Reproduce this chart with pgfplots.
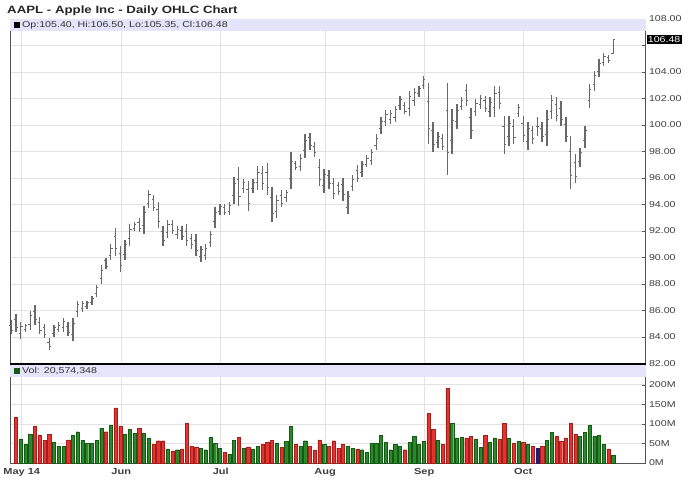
\documentclass[border=0pt]{standalone}
\usepackage{fontspec}
\setmainfont{Liberation Sans}[FakeStretch=1.25]
\usepackage{pgfplots}
\pgfplotsset{compat=1.18}
\usepackage{pgfplotstable}

\definecolor{band}{RGB}{228,228,250}
\definecolor{gridc}{RGB}{226,226,226}
\definecolor{barc}{RGB}{105,105,105}
\definecolor{vred}{RGB}{228,52,48}
\definecolor{vredd}{RGB}{165,30,28}
\definecolor{vgreen}{RGB}{42,138,42}
\definecolor{vgreend}{RGB}{22,88,22}
\definecolor{vblue}{RGB}{30,30,115}
\definecolor{framec}{RGB}{85,85,85}

\pgfdeclareplotmark{otick}{\pgfpathmoveto{\pgfqpoint{-1.8pt}{0pt}}\pgfpathlineto{\pgfqpoint{0pt}{0pt}}\pgfusepathqstroke}
\pgfdeclareplotmark{ctick}{\pgfpathmoveto{\pgfqpoint{0pt}{0pt}}\pgfpathlineto{\pgfqpoint{1.8pt}{0pt}}\pgfusepathqstroke}

\pgfplotstableread{
i o h l c
0 84.90 85.25 84.24 84.50
1 85.35 85.75 84.36 84.70
2 84.25 85.10 83.86 84.80
3 84.60 85.00 84.40 84.85
4 84.95 86.00 84.50 85.60
5 85.95 86.40 84.90 85.30
6 85.10 85.50 84.20 84.50
7 84.70 85.00 83.90 84.20
8 83.60 83.90 83.00 83.25
9 84.25 84.90 84.00 84.70
10 84.60 85.10 84.40 84.90
11 84.70 85.40 84.40 85.15
12 84.80 85.10 84.10 84.35
13 84.20 85.40 83.70 85.00
14 85.90 86.75 85.50 86.45
15 86.15 86.75 85.90 86.55
16 86.30 86.75 86.10 86.60
17 86.60 87.10 86.40 86.90
18 87.25 87.90 87.00 87.70
19 88.40 89.40 88.00 89.05
20 89.75 90.00 89.10 89.35
21 90.15 91.00 89.80 90.70
22 91.60 92.20 90.15 90.65
23 90.30 90.90 88.90 89.40
24 90.25 91.30 89.80 90.95
25 91.40 92.50 90.90 92.10
26 92.20 92.70 92.00 92.50
27 92.65 93.00 91.90 92.20
28 92.45 93.90 91.80 93.40
29 94.10 95.10 93.70 94.75
30 94.35 94.70 93.50 93.80
31 93.60 94.20 92.20 92.70
32 91.95 92.40 90.90 91.30
33 91.90 92.80 91.50 92.50
34 92.50 92.80 91.80 92.05
35 91.70 92.40 91.40 92.15
36 92.05 92.40 91.30 91.60
37 92.00 92.50 90.90 91.30
38 91.45 91.80 90.65 90.95
39 91.30 91.80 90.15 90.55
40 90.05 90.90 89.65 90.60
41 90.15 91.00 89.80 90.70
42 91.15 92.00 90.80 91.70
43 92.70 93.80 92.20 93.40
44 93.45 94.05 93.20 93.85
45 93.80 94.05 93.20 93.40
46 93.50 94.20 93.20 93.95
47 94.65 96.10 94.05 95.60
48 95.90 96.80 93.90 94.60
49 95.20 95.90 94.90 95.65
50 95.10 95.80 93.50 94.10
51 95.20 95.90 94.90 95.65
52 95.65 96.90 95.10 96.45
53 96.35 96.90 95.10 95.55
54 96.40 97.10 94.70 95.30
55 94.50 95.30 92.70 93.35
56 93.50 94.70 93.00 94.30
57 94.70 95.10 93.80 94.10
58 94.50 95.10 94.20 94.90
59 96.00 97.95 95.20 97.25
60 97.10 97.30 96.60 96.80
61 96.90 97.80 96.50 97.50
62 98.05 99.30 97.50 98.85
63 99.05 99.40 98.15 98.45
64 98.40 98.70 97.60 97.90
65 96.80 97.40 95.40 95.90
66 95.40 96.70 94.85 96.25
67 96.20 96.60 95.20 95.55
68 95.55 96.00 94.45 94.85
69 95.40 95.70 94.70 94.95
70 95.50 96.00 94.30 94.75
71 93.80 95.00 93.30 94.60
72 95.35 96.20 95.00 95.90
73 96.60 97.00 95.70 96.00
74 96.45 97.30 96.10 97.00
75 97.05 97.70 96.80 97.50
76 97.30 98.20 96.95 97.90
77 98.45 99.30 98.10 99.00
78 99.70 100.60 99.30 100.30
79 100.30 101.10 99.95 100.80
80 100.40 101.10 100.10 100.85
81 100.55 101.45 100.20 101.15
82 101.45 102.20 101.10 101.90
83 101.45 101.70 100.80 101.05
84 101.25 102.60 100.70 102.15
85 101.85 102.80 101.45 102.45
86 102.35 102.95 102.10 102.75
87 103.00 103.70 102.70 103.45
88 101.80 103.20 98.60 99.75
89 99.55 100.20 97.95 98.50
90 98.65 99.45 98.30 99.15
91 98.95 99.30 98.10 98.40
92 101.10 103.20 96.20 97.95
93 98.80 101.20 97.80 100.35
94 100.25 101.60 99.70 101.10
95 101.40 102.10 101.10 101.85
96 102.60 103.10 101.45 101.85
97 100.60 101.30 98.95 99.55
98 101.05 101.95 100.70 101.65
99 101.55 102.30 101.20 102.00
100 101.85 102.20 100.95 101.25
101 101.05 102.10 100.60 101.70
102 101.30 102.95 100.60 102.40
103 102.45 102.95 101.20 101.65
104 99.85 100.70 97.80 98.50
105 99.15 100.70 98.45 100.15
106 99.90 100.45 98.60 99.05
107 100.90 101.60 100.60 101.35
108 100.10 100.70 98.70 99.20
109 98.75 100.20 98.10 99.70
110 99.55 99.95 98.60 98.95
111 99.90 100.60 99.20 99.90
112 99.75 100.20 98.70 99.10
113 99.25 101.10 98.45 100.45
114 101.00 102.30 100.45 101.85
115 101.55 102.10 100.30 100.75
116 101.25 101.80 99.95 100.40
117 100.05 100.60 98.70 99.15
118 98.00 99.20 95.20 96.20
119 97.15 97.80 95.60 96.15
120 97.25 98.30 96.80 97.95
121 98.80 99.95 98.30 99.55
122 101.85 103.10 101.30 102.65
123 103.05 104.10 102.60 103.75
124 104.00 105.00 103.60 104.65
125 104.75 105.45 104.45 105.20
126 105.10 105.30 104.70 104.85
127 105.40 106.50 105.35 106.48
}\price

\pgfplotstableread{
i v
1 116
5 93
6 72
7 58
8 74
12 59
20 80
22 141
23 93
27 89
30 47
31 57
32 57
34 31
36 36
37 102
38 42
39 41
45 28
48 65
50 41
53 47
54 53
55 58
57 40
60 47
63 42
64 33
65 59
67 42
68 57
69 38
70 48
73 36
83 34
88 127
89 86
91 48
92 191
96 64
97 68
100 70
103 61
104 102
106 51
108 53
110 43
112 42
115 68
116 55
117 64
118 102
119 74
126 36
}\volred

\pgfplotstableread{
i v
2 62
3 48
4 74
9 53
10 42
11 43
13 70
14 80
15 58
16 51
17 51
18 58
19 89
21 96
24 74
25 86
26 76
28 76
29 64
33 36
35 34
40 38
41 34
42 65
43 51
44 38
46 23
47 58
49 38
51 36
52 42
56 51
58 55
59 93
61 43
62 57
66 48
71 42
72 38
74 34
75 28
76 51
77 51
78 70
79 53
80 34
81 47
82 42
84 53
85 68
86 47
87 55
90 58
93 102
94 64
95 65
98 62
99 40
101 53
102 64
105 64
107 55
109 48
113 58
114 79
120 68
121 79
122 96
123 68
124 70
125 48
127 20.57
}\volgreen

\pgfplotstableread{
i v
111 38
}\volblue

\pgfplotsset{
  chartaxis/.style={
    scale only axis,
    width=635.5pt,
    xmin=-0.27, xmax=133.8,
    xtick={2.2,23.2,44.2,66.2,87.1,108},
    xmajorgrids, ymajorgrids,
    grid style={gridc, line width=0.8pt},
    axis line style={framec, line width=0.9pt},
    ytick pos=right, yticklabel pos=right,
    tick align=inside,
    major tick length=4pt,
    y tick style={framec, line width=0.6pt},
    x tick style={draw=none},
    yticklabel style={font=\fontsize{8.5}{10}\selectfont, text=black!75},
    clip=false,
  }
}

\begin{document}
\begin{tikzpicture}[x=1pt,y=1pt]
\path[use as bounding box] (0,0) rectangle (688,-503);
\node[anchor=base west, inner sep=0pt, font=\bfseries\fontsize{10.6}{12}\selectfont, text=black!85] at (7,-14) {AAPL - Apple Inc - Daily OHLC Chart};

\begin{axis}[chartaxis,
  at={(10pt,-19pt)}, anchor=north west,
  height=344.5pt,
  ymin=82, ymax=108,
  ytick={82,84,86,88,90,92,94,96,98,100,102,104,106,108},
  yticklabels={82.00,84.00,86.00,88.00,90.00,92.00,94.00,96.00,98.00,100.00,102.00,104.00,{},108.00},
  xticklabels={},
]
\fill[band] (rel axis cs:0,1) rectangle ([yshift=-12.5pt]rel axis cs:1,1);
\node[anchor=west, inner sep=0pt, font=\fontsize{8.5}{10}\selectfont, text=black!80]
  at ([xshift=4pt,yshift=-6.5pt]rel axis cs:0,1)
  {\textcolor{black}{\rule[-0.3pt]{5.5pt}{5.5pt}}\hspace{2.5pt}Op:105.40, Hi:106.50, Lo:105.35, Cl:106.48};
\addplot[barc, line width=1.35pt, quiver={u=0, v=\thisrow{h}-\thisrow{l}}] table[x=i, y=l] {\price};
\addplot[barc, only marks, mark=otick, mark options={line width=1pt}] table[x=i, y=o] {\price};
\addplot[barc, only marks, mark=ctick, mark options={line width=1pt}] table[x=i, y=c] {\price};
\draw[black, line width=1.3pt] (rel axis cs:0,0) -- (rel axis cs:1,0);
\node[anchor=west, fill=black, text=white, inner xsep=1.2pt, inner ysep=1.5pt, font=\fontsize{8.5}{10}\selectfont]
  at ([xshift=1pt]axis cs:133.8,106.48) {106.48};
\end{axis}

\begin{axis}[chartaxis,
  at={(10pt,-364.5pt)}, anchor=north west,
  height=98.5pt,
  ymin=0, ymax=252,
  ytick={0,50,100,150,200},
  yticklabels={0M,50M,100M,150M,200M},
  xticklabels={May 14,Jun,Jul,Aug,Sep,Oct},
  xticklabel style={font=\bfseries\fontsize{8.8}{10}\selectfont, text=black!75, yshift=-1.5pt},
]
\fill[band] (rel axis cs:0,1) rectangle ([yshift=-12.5pt]rel axis cs:1,1);
\node[anchor=west, inner sep=0pt, font=\fontsize{8.5}{10}\selectfont, text=black!80]
  at ([xshift=4pt,yshift=-6.5pt]rel axis cs:0,1)
  {\textcolor{vgreend}{\rule[-0.3pt]{5.5pt}{5.5pt}}\hspace{2.5pt}Vol: 20,574,348};
\addplot[ybar, bar width=3.2pt, bar shift=0pt, fill=vred, draw=vredd, line width=0.4pt] table[x=i, y=v] {\volred};
\addplot[ybar, bar width=3.2pt, bar shift=0pt, fill=vgreen, draw=vgreend, line width=0.4pt] table[x=i, y=v] {\volgreen};
\addplot[ybar, bar width=3.2pt, bar shift=0pt, fill=vblue, draw=vblue, line width=0.4pt] table[x=i, y=v] {\volblue};
\draw[black, line width=1.3pt] (rel axis cs:0,1) -- (rel axis cs:1,1);
\end{axis}
\end{tikzpicture}
\end{document}
